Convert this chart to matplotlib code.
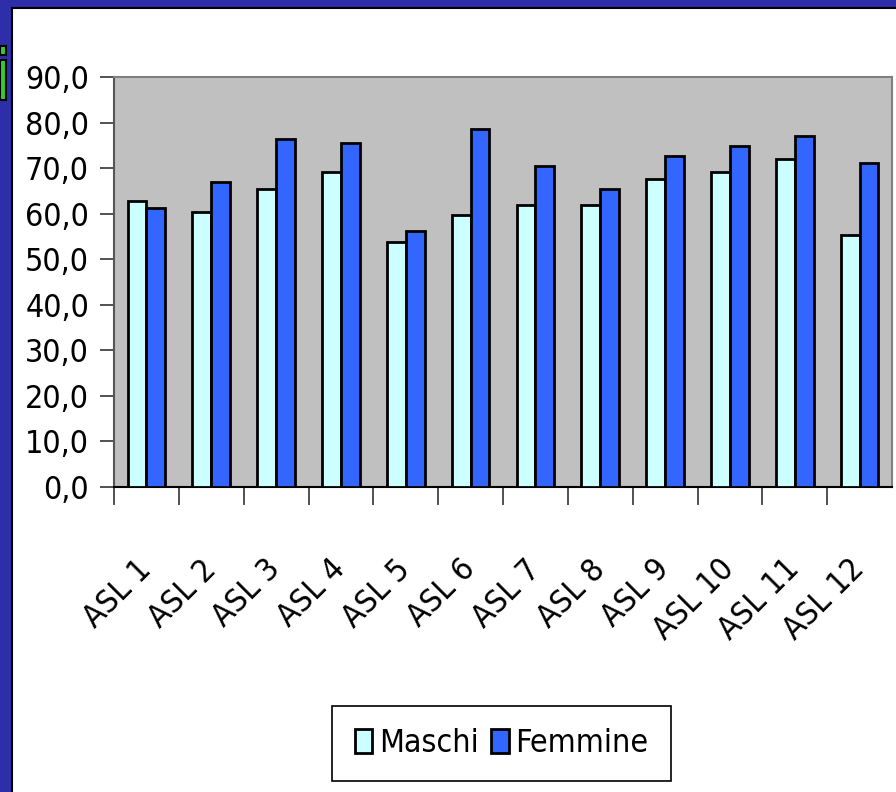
import numpy as np
import matplotlib.pyplot as plt
from matplotlib.patches import Rectangle

# ASL data
categories = ["ASL 1", "ASL 2", "ASL 3", "ASL 4", "ASL 5", "ASL 6",
              "ASL 7", "ASL 8", "ASL 9", "ASL 10", "ASL 11", "ASL 12"]
maschi = [62.8, 60.4, 65.4, 69.2, 53.8, 59.7, 61.9, 61.9, 67.6, 69.2, 72.0, 55.3]
femmine = [61.2, 67.0, 76.3, 75.6, 56.2, 78.5, 70.5, 65.5, 72.7, 74.9, 77.1, 71.2]
yticks = [0, 10, 20, 30, 40, 50, 60, 70, 80, 90]

plt.rcParams['font.family'] = ["DejaVu Sans"]
plt.rcParams['font.stretch'] = "condensed"

W, H = 896, 792
fig = plt.figure(figsize=(W / 100, H / 100), dpi=100)
fig.patch.set_facecolor("white")

# slide frame: blue strips on the left and top, green fragment of the title
blue = "#2e2eaa"
fig.patches.append(Rectangle((0, 0), 12 / W, 1, transform=fig.transFigure,
                             facecolor=blue, edgecolor="none", zorder=0))
fig.patches.append(Rectangle((0, 1 - 8 / H), 1, 8 / H, transform=fig.transFigure,
                             facecolor=blue, edgecolor="none", zorder=0))
fig.lines.append(plt.Line2D([12 / W, 12 / W], [0, 1 - 8 / H], transform=fig.transFigure,
                            color="black", lw=1.5))
fig.lines.append(plt.Line2D([12 / W, 1], [1 - 8 / H, 1 - 8 / H], transform=fig.transFigure,
                            color="black", lw=1.5))
fig.patches.append(Rectangle((0, 1 - 100 / H), 6 / W, 40 / H, transform=fig.transFigure,
                             facecolor="#33cc33", edgecolor="black", lw=1.5, zorder=2))
fig.patches.append(Rectangle((0, 1 - 55 / H), 6 / W, 9 / H, transform=fig.transFigure,
                             facecolor="#33cc33", edgecolor="black", lw=1.5, zorder=2))

ax = fig.add_axes([114 / W, 1 - 487 / H, (892 - 114) / W, (487 - 77) / H])
ax.set_facecolor("#c0c0c0")

x = np.arange(len(categories))
bw = 0.29
ax.bar(x - bw / 2, maschi, bw, color="#ccffff", edgecolor="black", lw=2, label="Maschi", zorder=3)
ax.bar(x + bw / 2, femmine, bw, color="#3366ff", edgecolor="black", lw=2, label="Femmine", zorder=3)

ax.set_xlim(-0.5, len(categories) - 0.5)
ax.set_ylim(0, 90)
ax.set_yticks(yticks)
ax.set_yticklabels([f"{v:.1f}".replace(".", ",") for v in yticks], fontsize=23)
ax.tick_params(axis="y", direction="out", length=10, width=1.2, color="#333333", pad=8)

ax.set_xticks(x)
ax.set_xticklabels(categories, fontsize=23, rotation=45, ha="right", va="center",
                   rotation_mode="anchor")
ax.set_xticks(np.arange(len(categories)) - 0.5, minor=True)
ax.tick_params(axis="x", which="major", length=0, pad=56)
ax.tick_params(axis="x", which="minor", length=13, width=1.2, color="#333333")

for side in ["top", "right"]:
    ax.spines[side].set_color("#808080")
    ax.spines[side].set_linewidth(1.5)
ax.spines["left"].set_color("#555555")
ax.spines["left"].set_linewidth(1.5)
ax.spines["bottom"].set_color("black")
ax.spines["bottom"].set_linewidth(1.5)

leg = fig.legend(loc="center", bbox_to_anchor=(501.5 / W, 1 - 743.5 / H), ncol=2,
                 fontsize=23, frameon=True, fancybox=False, edgecolor="black",
                 framealpha=1, handlelength=0.55, handleheight=0.8, handletextpad=0.2,
                 columnspacing=0.4, borderpad=0.7, borderaxespad=0)
leg.get_frame().set_linewidth(1.2)

fig.savefig("out.png", dpi=100)
